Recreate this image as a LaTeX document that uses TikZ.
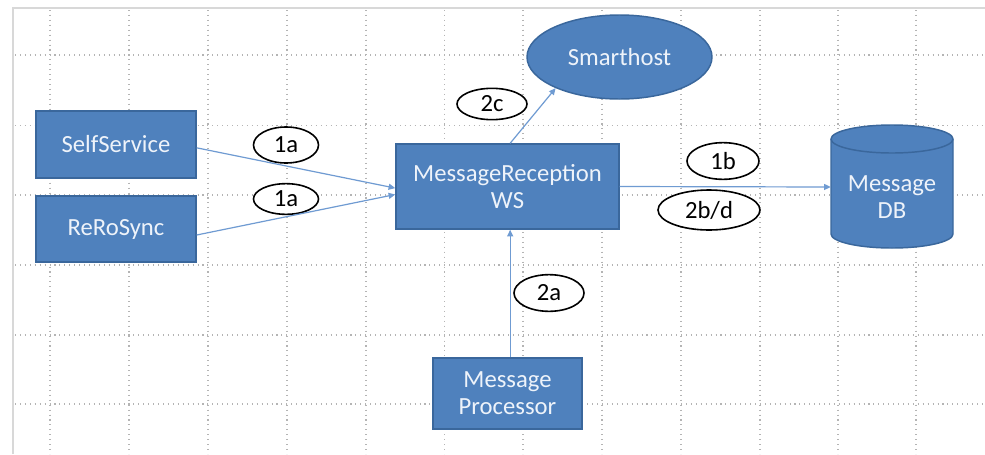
\documentclass[tikz,border=0pt]{standalone}
\usepackage{fontspec}
\setmainfont{Carlito}
\usetikzlibrary{arrows.meta,shapes.geometric}
\definecolor{boxfill}{HTML}{4F81BD}
\definecolor{boxline}{HTML}{3A679C}
\definecolor{arrowc}{HTML}{6F9BD2}
\definecolor{boxtext}{HTML}{EEF3FA}
\definecolor{gridc}{HTML}{B4B4B4}
\definecolor{framec}{HTML}{D8D8D8}
\tikzset{
  gridline/.style={gridc, line width=0.8pt, dash pattern=on 0.8pt off 2.9pt},
  framel/.style={framec, line width=0.9pt},
  bluebox/.style={rectangle, draw=boxline, fill=boxfill, line width=1.1pt,
    text=boxtext, align=center, inner sep=0pt,
    font=\fontsize{18.5}{20.5}\selectfont},
  stepnum/.style={ellipse, draw=black, fill=white, line width=1.2pt,
    inner sep=0pt, font=\fontsize{18.5}{20}\selectfont},
  flow/.style={arrowc, line width=0.9pt, -{Triangle[length=5pt,width=4.5pt]}},
}
\begin{document}
\begin{tikzpicture}[x=0.75pt,y=-0.75pt]
\useasboundingbox[fill=white] (0,0) rectangle (985,454);
% frame
\draw[framel] (13,454) -- (13,8) -- (985,8);
% grid
\foreach \gx in {50,129,208,287,366,444.5,523,602,681,760,838,916}
  \draw[gridline] (\gx,10) -- (\gx,454);
\foreach \gy in {55,125.5,195,265,335,404}
  \draw[gridline] (15,\gy) -- (985,\gy);

% boxes
\node[bluebox, minimum width=120pt, minimum height=50.25pt] (ss) at (116,144.5) {SelfService};
\node[bluebox, minimum width=120pt, minimum height=49.5pt] (rr) at (116,229) {ReRoSync};
\node[bluebox, minimum width=167.25pt, minimum height=63.75pt] (mr) at (507.5,186.5) {MessageReception\\WS};
\node[bluebox, minimum width=111.75pt, minimum height=53.25pt] (pr) at (507.5,393.5) {Message\\Processor};
\node[ellipse, draw=boxline, fill=boxfill, line width=1.1pt, text=boxtext, inner sep=0pt,
  minimum width=138.75pt, minimum height=63pt, font=\fontsize{18.5}{20.5}\selectfont] (sh) at (619.5,57) {Smarthost};

% database cylinder
\fill[boxfill] (831,139) -- (831,234) arc (180:360:45.75pt and 10.5pt) -- (953,139) arc (0:180:45.75pt and 10.5pt) -- cycle;
\draw[boxline, line width=1.1pt] (831,139) -- (831,234) arc (180:360:45.75pt and 10.5pt) -- (953,139) arc (0:180:45.75pt and 10.5pt) -- cycle;
\draw[boxline, line width=1.1pt] (831,139) arc (180:360:45.75pt and 10.5pt);
\node[text=boxtext, align=center, inner sep=0pt, minimum width=91.5pt, minimum height=60pt,
  font=\fontsize{18.5}{20.5}\selectfont] (db) at (892,197) {Message\\DB};

% step labels
\node[stepnum, minimum width=48.75pt, minimum height=27pt] (l1a) at (286,145) {1a};
\node[stepnum, minimum width=48.75pt, minimum height=23pt] (l1b2) at (286,199) {1a};
\node[stepnum, minimum width=52.5pt, minimum height=23.5pt] (l2c) at (492,104) {2c};
\node[stepnum, minimum width=54pt, minimum height=27.5pt] (l1b) at (723,161) {1b};
\node[stepnum, minimum width=76.5pt, minimum height=30pt] (l2bd) at (709,210) {2b/d};
\node[stepnum, minimum width=52.5pt, minimum height=27.5pt] (l2a) at (549,293) {2a};

% connectors
\draw[flow] ([yshift=-2.5pt]ss.east) -- ([yshift=-1.2pt]mr.west);
\draw[flow] ([yshift=-4.5pt]rr.east) -- ([yshift=-6pt]mr.west);
\draw[flow] ([xshift=2pt]mr.north) -- (sh.206);
\draw[flow] ([xshift=2pt]pr.north) -- ([xshift=2pt]mr.south);
\draw[flow] (mr.east) -- ([yshift=7.5pt]db.west);
\end{tikzpicture}
\end{document}
